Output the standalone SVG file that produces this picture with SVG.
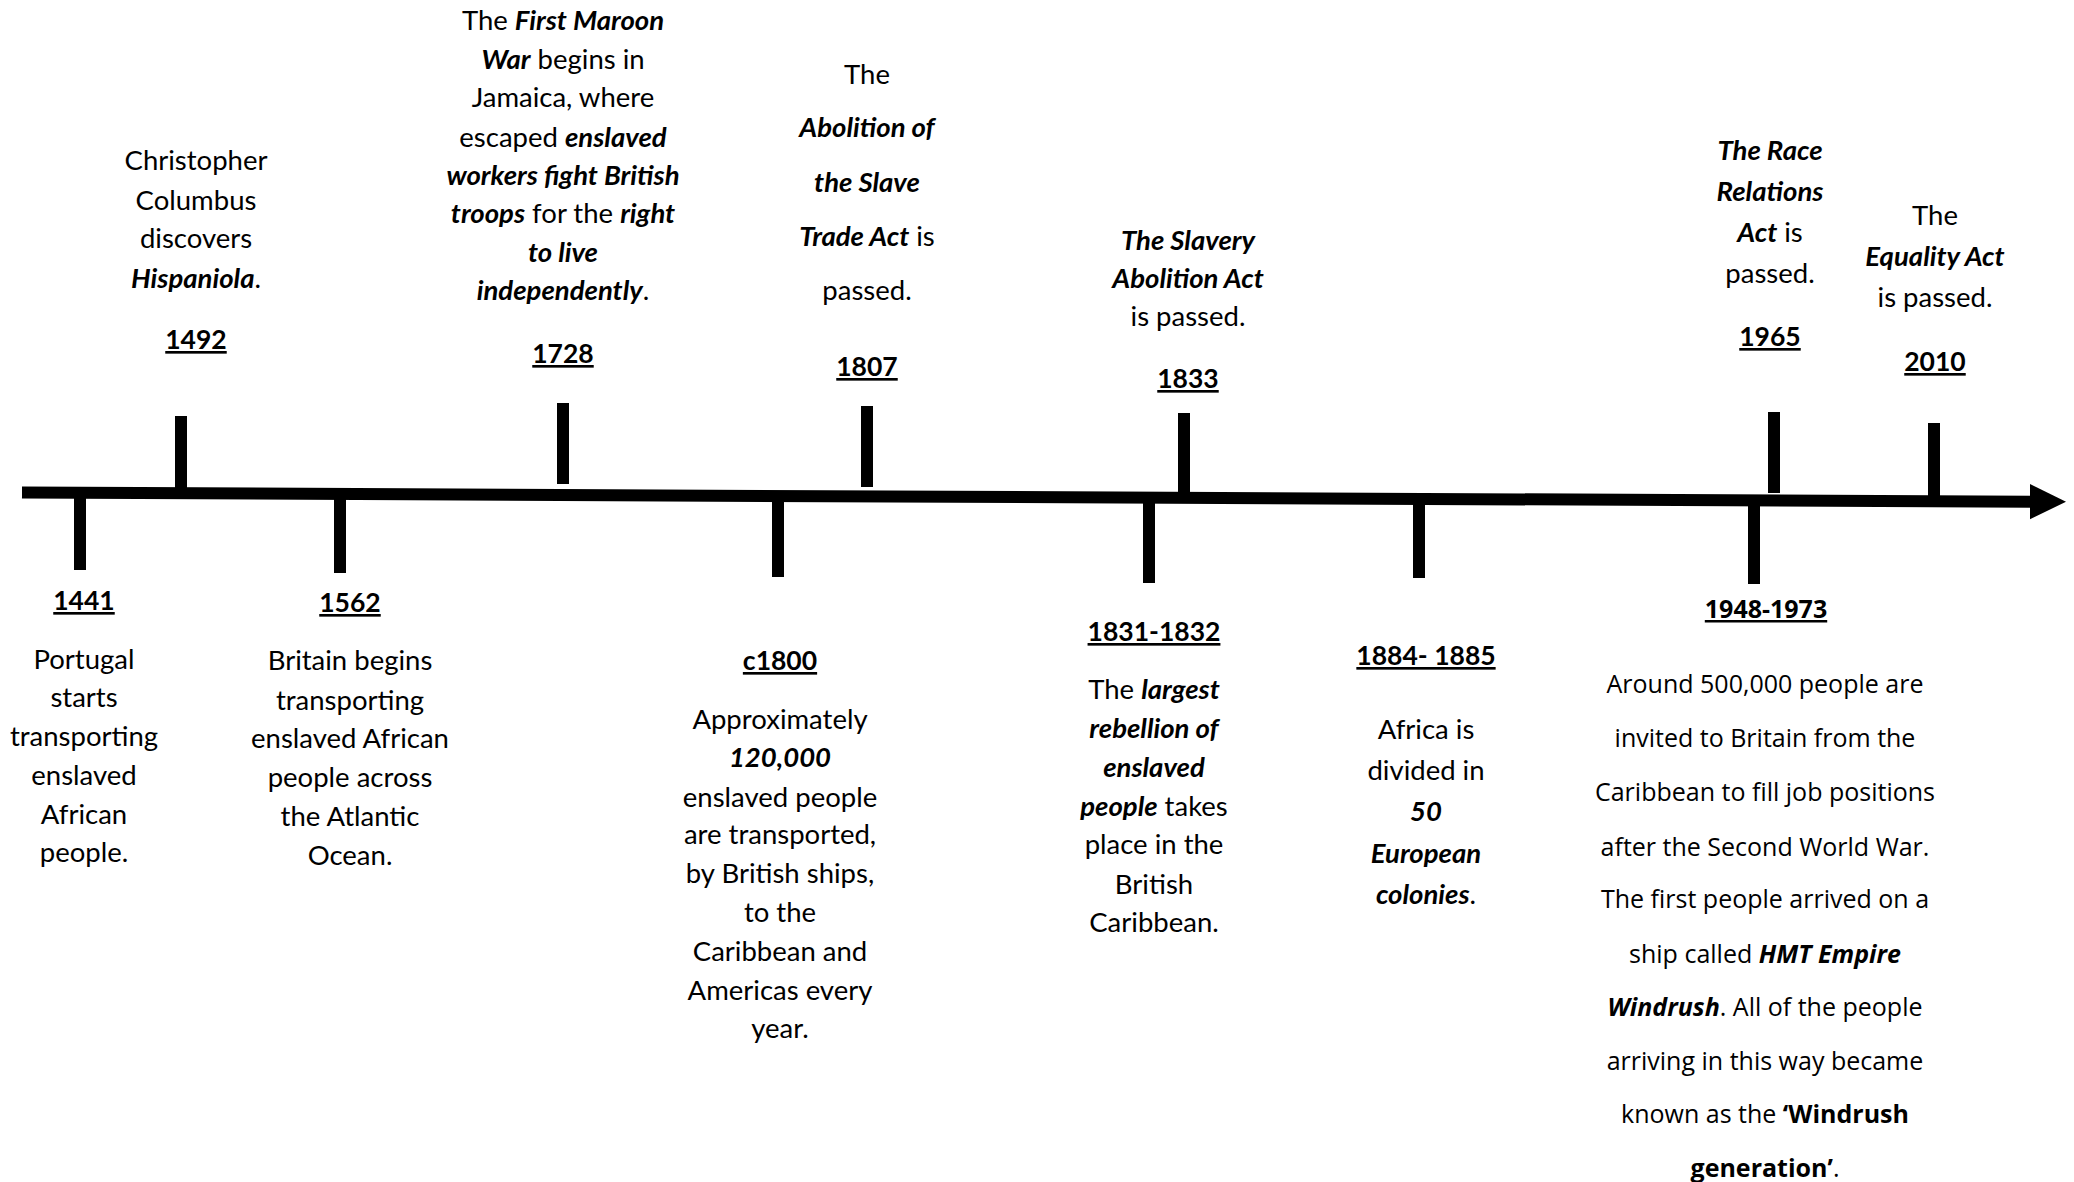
<svg xmlns="http://www.w3.org/2000/svg" width="2074" height="1182" viewBox="0 0 2074 1182">
<style>
  .t { font-family: Lato, "Liberation Sans", sans-serif; font-size: 27.5px; fill: #000; text-anchor: middle; }
  .w { font-family: "Open Sans", "DejaVu Sans", sans-serif; font-size: 25px; fill: #000; text-anchor: middle; }
  .bi { font-weight: 700; font-style: italic; }
  .b { font-weight: 700; }
  .yr { font-weight: 700; text-decoration: underline; font-size: 26.5px; }
  .w.yr { font-size: 25px; }
  .tick { fill: #000; }
</style>
<rect width="2074" height="1182" fill="#fff"/>
<g id="connectors">
  <line x1="22" y1="492.5" x2="2032" y2="501.7" stroke="#000" stroke-width="12"/>
  <polygon points="2030,484 2066,501.7 2030,519.3" fill="#000"/>
</g>
<g id="node-1441">
  <rect class="tick" x="74" y="496" width="12" height="74"/>
  <text class="t yr" x="84" y="610">1441</text>
  <text class="t" x="84" y="669">Portugal</text>
  <text class="t" x="84" y="707">starts</text>
  <text class="t" x="84" y="746">transporting</text>
  <text class="t" x="84" y="785">enslaved</text>
  <text class="t" x="84" y="824">African</text>
  <text class="t" x="84" y="862">people.</text>
</g>
<g id="node-1492">
  <rect class="tick" x="175" y="416" width="12" height="74"/>
  <text class="t" x="196" y="170">Christopher</text>
  <text class="t" x="196" y="210">Columbus</text>
  <text class="t" x="196" y="248">discovers</text>
  <text class="t" x="196" y="288"><tspan class="bi">Hispaniola</tspan>.</text>
  <text class="t yr" x="196" y="349">1492</text>
</g>
<g id="node-1562">
  <rect class="tick" x="334" y="497" width="12" height="76"/>
  <text class="t yr" x="350" y="612">1562</text>
  <text class="t" x="350" y="670">Britain begins</text>
  <text class="t" x="350" y="710">transporting</text>
  <text class="t" x="350" y="748">enslaved African</text>
  <text class="t" x="350" y="787">people across</text>
  <text class="t" x="350" y="826">the Atlantic</text>
  <text class="t" x="350" y="865">Ocean.</text>
</g>
<g id="node-1728">
  <rect class="tick" x="557" y="403" width="12" height="81"/>
  <text class="t" x="563" y="30">The <tspan class="bi">First Maroon</tspan></text>
  <text class="t" x="563" y="69"><tspan class="bi">War</tspan> begins in</text>
  <text class="t" x="563" y="107">Jamaica, where</text>
  <text class="t" x="563" y="147">escaped <tspan class="bi">enslaved</tspan></text>
  <text class="t bi" x="563" y="185">workers fight British</text>
  <text class="t" x="563" y="223"><tspan class="bi">troops</tspan> for the <tspan class="bi">right</tspan></text>
  <text class="t bi" x="563" y="262">to live</text>
  <text class="t" x="563" y="300"><tspan class="bi">independently</tspan>.</text>
  <text class="t yr" x="563" y="363">1728</text>
</g>
<g id="node-c1800">
  <rect class="tick" x="772" y="499" width="12" height="78"/>
  <text class="t yr" x="780" y="670">c1800</text>
  <text class="t" x="780" y="729">Approximately</text>
  <text class="t bi" x="780" y="767">120,000</text>
  <text class="t" x="780" y="807">enslaved people</text>
  <text class="t" x="780" y="844">are transported,</text>
  <text class="t" x="780" y="883">by British ships,</text>
  <text class="t" x="780" y="922">to the</text>
  <text class="t" x="780" y="961">Caribbean and</text>
  <text class="t" x="780" y="1000">Americas every</text>
  <text class="t" x="780" y="1038">year.</text>
</g>
<g id="node-1807">
  <rect class="tick" x="861" y="406" width="12" height="81"/>
  <text class="t" x="867" y="84">The</text>
  <text class="t bi" x="867" y="137">Abolition of</text>
  <text class="t bi" x="867" y="192">the Slave</text>
  <text class="t" x="867" y="246"><tspan class="bi">Trade Act</tspan> is</text>
  <text class="t" x="867" y="300">passed.</text>
  <text class="t yr" x="867" y="376">1807</text>
</g>
<g id="node-1831-1832">
  <rect class="tick" x="1143" y="501" width="12" height="82"/>
  <text class="t yr" x="1154" y="641">1831-1832</text>
  <text class="t" x="1154" y="699">The <tspan class="bi">largest</tspan></text>
  <text class="t bi" x="1154" y="738">rebellion of</text>
  <text class="t bi" x="1154" y="777">enslaved</text>
  <text class="t" x="1154" y="816"><tspan class="bi">people</tspan> takes</text>
  <text class="t" x="1154" y="854">place in the</text>
  <text class="t" x="1154" y="894">British</text>
  <text class="t" x="1154" y="932">Caribbean.</text>
</g>
<g id="node-1833">
  <rect class="tick" x="1178" y="413" width="12" height="81"/>
  <text class="t bi" x="1188" y="250">The Slavery</text>
  <text class="t bi" x="1188" y="288">Abolition Act</text>
  <text class="t" x="1188" y="326">is passed.</text>
  <text class="t yr" x="1188" y="388">1833</text>
</g>
<g id="node-1884-1885">
  <rect class="tick" x="1413" y="502" width="12" height="76"/>
  <text class="t yr" x="1426" y="665">1884- 1885</text>
  <text class="t" x="1426" y="739">Africa is</text>
  <text class="t" x="1426" y="780">divided in</text>
  <text class="t bi" x="1426" y="821">50</text>
  <text class="t bi" x="1426" y="863">European</text>
  <text class="t" x="1426" y="904"><tspan class="bi">colonies</tspan>.</text>
</g>
<g id="node-1948-1973">
  <rect class="tick" x="1748" y="503" width="12" height="81"/>
  <text class="w yr" x="1766" y="618">1948-1973</text>
  <text class="w" x="1765" y="693">Around 500,000 people are</text>
  <text class="w" x="1765" y="747">invited to Britain from the</text>
  <text class="w" x="1765" y="801">Caribbean to fill job positions</text>
  <text class="w" x="1765" y="856">after the Second World War.</text>
  <text class="w" x="1765" y="908">The first people arrived on a</text>
  <text class="w" x="1765" y="963">ship called <tspan class="bi">HMT Empire</tspan></text>
  <text class="w" x="1765" y="1016"><tspan class="bi">Windrush</tspan>. All of the people</text>
  <text class="w" x="1765" y="1070">arriving in this way became</text>
  <text class="w" x="1765" y="1123">known as the <tspan class="b">‘Windrush</tspan></text>
  <text class="w" x="1765" y="1177"><tspan class="b">generation’</tspan>.</text>
</g>
<g id="node-1965">
  <rect class="tick" x="1768" y="412" width="12" height="81"/>
  <text class="t bi" x="1770" y="160">The Race</text>
  <text class="t bi" x="1770" y="201">Relations</text>
  <text class="t" x="1770" y="242"><tspan class="bi">Act</tspan> is</text>
  <text class="t" x="1770" y="283">passed.</text>
  <text class="t yr" x="1770" y="346">1965</text>
</g>
<g id="node-2010">
  <rect class="tick" x="1928" y="423" width="12" height="75"/>
  <text class="t" x="1935" y="225">The</text>
  <text class="t bi" x="1935" y="266">Equality Act</text>
  <text class="t" x="1935" y="307">is passed.</text>
  <text class="t yr" x="1935" y="371">2010</text>
</g>
</svg>
